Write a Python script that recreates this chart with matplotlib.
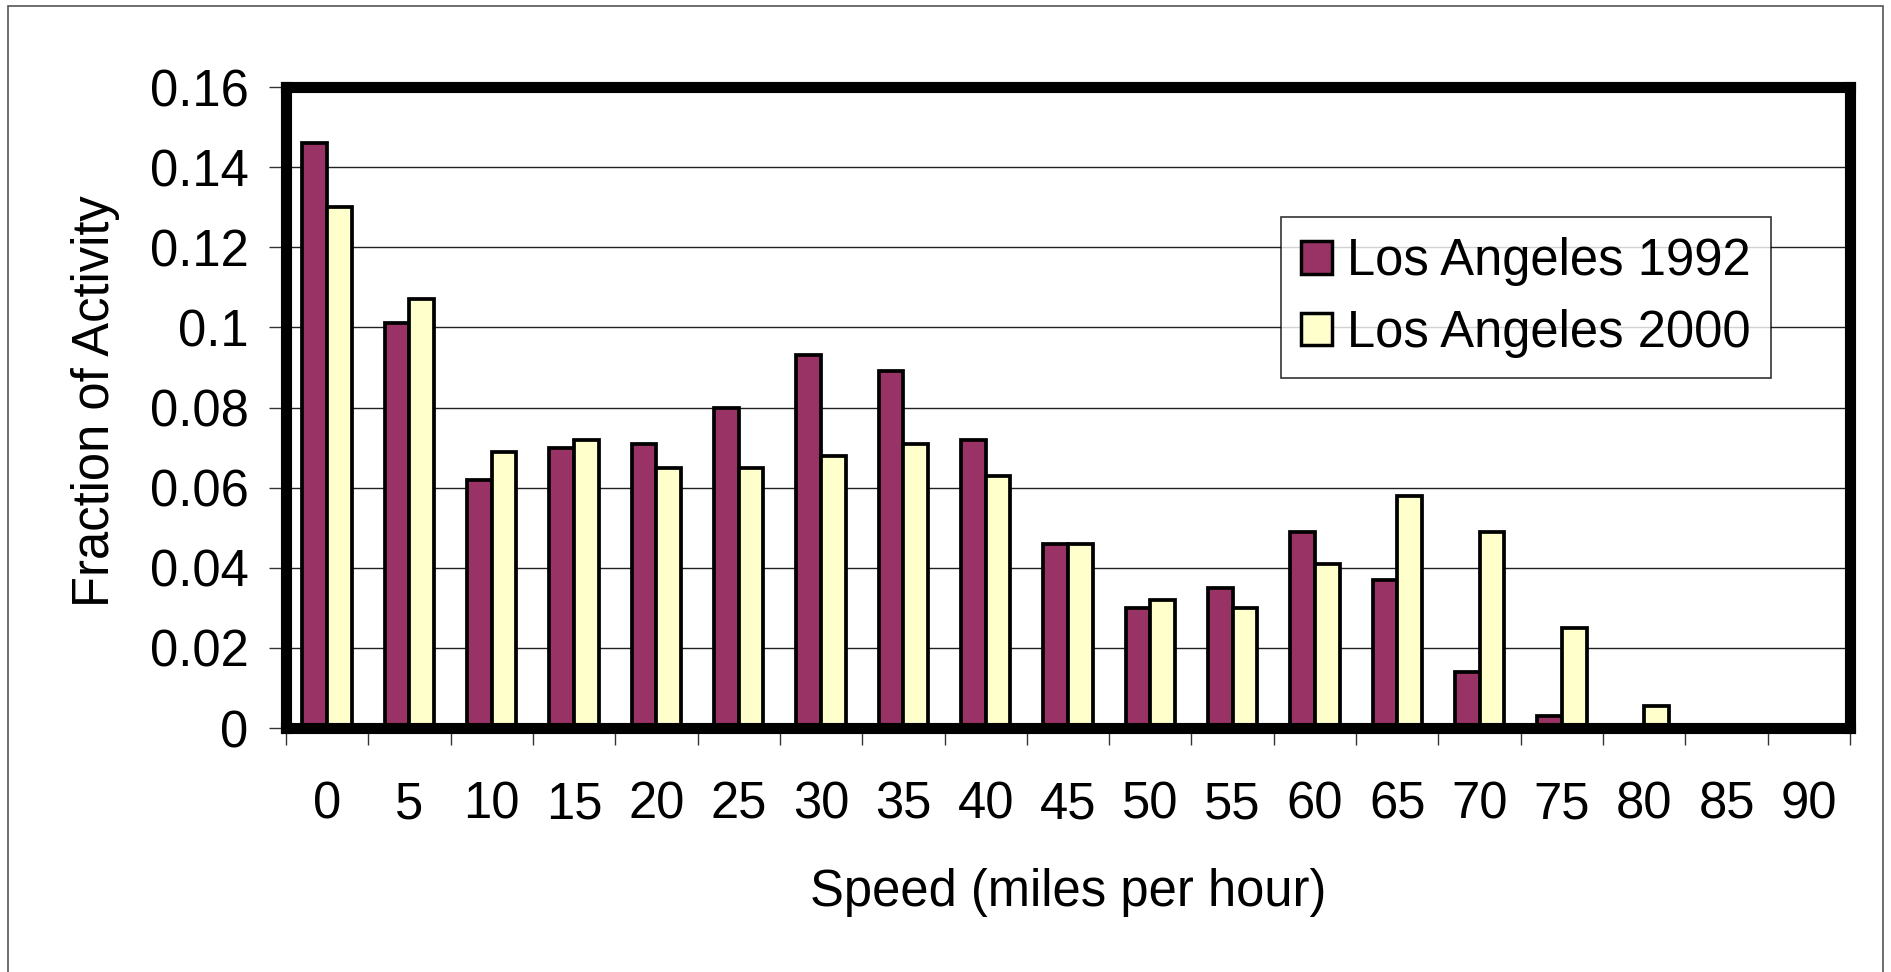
import numpy as np
import matplotlib
matplotlib.use("Agg")
import matplotlib.pyplot as plt
from matplotlib.patches import Rectangle, Patch

plt.rcParams['font.family'] = ['Liberation Sans', 'DejaVu Sans']

speeds = ['0', '5', '10', '15', '20', '25', '30', '35', '40', '45',
          '50', '55', '60', '65', '70', '75', '80', '85', '90']
la_1992 = [0.146, 0.101, 0.062, 0.070, 0.071, 0.080, 0.093, 0.089, 0.072, 0.046,
           0.030, 0.035, 0.049, 0.037, 0.014, 0.003, 0.0, 0.0, 0.0]
la_2000 = [0.130, 0.107, 0.069, 0.072, 0.065, 0.065, 0.068, 0.071, 0.063, 0.046,
           0.032, 0.030, 0.041, 0.058, 0.049, 0.025, 0.0055, 0.0, 0.0]
yticks = [0, 0.02, 0.04, 0.06, 0.08, 0.1, 0.12, 0.14, 0.16]
ytick_labels = ['0', '0.02', '0.04', '0.06', '0.08', '0.1', '0.12', '0.14', '0.16']

W, H = 1891, 972
FS = 36.5
fig = plt.figure(figsize=(W / 100, H / 100), dpi=100)

# outer chart border
fig.patches.append(Rectangle((8 / W, -0.05), (1883 - 8) / W, 1.05 - 6 / H,
                             transform=fig.transFigure, fill=False,
                             edgecolor='#555555', linewidth=1.2))

ax = fig.add_axes([286 / W, (H - 728) / H, (1850 - 286) / W, (728 - 87) / H])

x = np.arange(len(speeds))
w = 0.3
ax.bar(x - w / 2, la_1992, w, color='#993366', edgecolor='black', linewidth=2.7,
       label='Los Angeles 1992', zorder=3)
ax.bar(x + w / 2, la_2000, w, color='#FFFFCC', edgecolor='black', linewidth=2.7,
       label='Los Angeles 2000', zorder=3)

ax.set_xlim(-0.5, len(speeds) - 0.5)
ax.set_ylim(0, 0.16)
ax.set_yticks(yticks, ytick_labels)
ax.set_xticks(x, speeds)
ax.set_xticks(np.arange(-0.5, len(speeds)), minor=True)
ax.tick_params(axis='x', which='major', length=0, pad=38, labelsize=FS)
ax.tick_params(axis='x', which='minor', length=12, width=1, color='#333333')
ax.tick_params(axis='y', length=12, width=1, color='#333333', pad=15, labelsize=FS)
ax.yaxis.grid(True, color='#222222', linewidth=1)
ax.set_axisbelow(True)

for s in ax.spines.values():
    s.set_linewidth(8)
    s.set_color('black')
    s.set_zorder(5)

handles = [Patch(facecolor='#993366', edgecolor='black', linewidth=2.5),
           Patch(facecolor='#FFFFCC', edgecolor='black', linewidth=2.5)]
leg = ax.legend(handles, ['Los Angeles 1992', 'Los Angeles 2000'],
                loc='upper left', bbox_to_anchor=(1281 / W, 1 - 217 / H),
                bbox_transform=fig.transFigure, fontsize=FS, frameon=True,
                fancybox=False, handlelength=0.6, handleheight=0.6,
                handletextpad=0.3, borderpad=0.4, labelspacing=0.45,
                borderaxespad=0)
leg.get_frame().set_edgecolor('black')
leg.get_frame().set_linewidth(1.2)
leg.set_zorder(6)

fig.text(96 / W, 1 - 401 / H, 'Fraction of Activity', rotation=90,
         ha='center', va='center', fontsize=FS)
fig.text(1068 / W, 1 - 892 / H, 'Speed (miles per hour)',
         ha='center', va='center', fontsize=FS)

fig.savefig('out.png', dpi=100)
